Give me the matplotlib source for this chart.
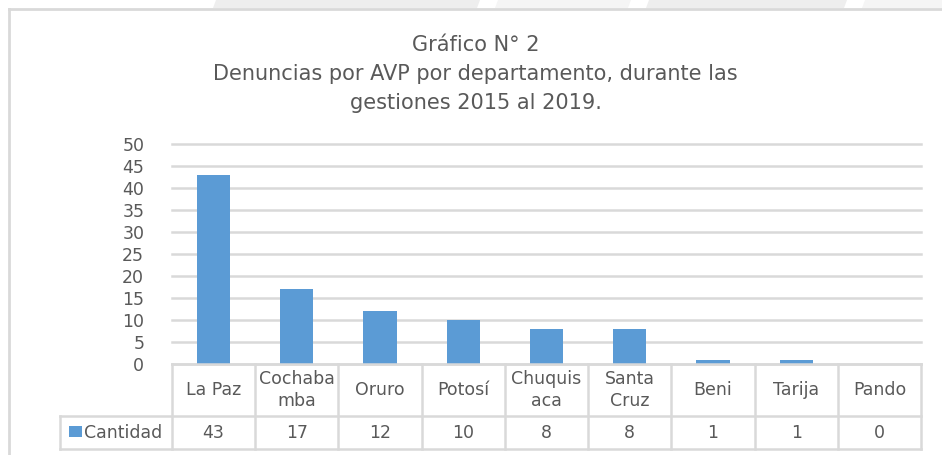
import matplotlib.pyplot as plt
from matplotlib.patches import Polygon, Rectangle

# data
departamentos = ["La Paz", "Cochaba\nmba", "Oruro", "Potosí", "Chuquis\naca",
                 "Santa\nCruz", "Beni", "Tarija", "Pando"]
cantidad = [43, 17, 12, 10, 8, 8, 1, 1, 0]
y_ticks = [0, 5, 10, 15, 20, 25, 30, 35, 40, 45, 50]

W, H = 942, 455
BLUE = "#5b9bd5"
GRID = "#d9d9d9"
TXT = "#595959"

plt.rcParams["font.family"] = ["DejaVu Sans"]

fig = plt.figure(figsize=(W / 100, H / 100), dpi=100)
fig.patch.set_facecolor("white")


def fx(px):
    return px / W


def fy(py):
    return 1 - py / H


# --- page background strip at the very top (slanted grey bands)
bands = [((213, 477), "#eeeeee"), ((495, 628), "#f5f5f5"),
         ((646, 844), "#eeeeee"), ((862, 960), "#f5f5f5")]
for (x0, x1), col in bands:
    fig.patches.append(Polygon([(fx(x0), fy(8)), (fx(x1), fy(8)),
                                (fx(x1 + 3), fy(0)), (fx(x0 + 3), fy(0))],
                               closed=True, facecolor=col, edgecolor="none",
                               transform=fig.transFigure, zorder=0))

# chart frame
fig.add_artist(plt.Line2D([fx(9), fx(9)], [fy(9), 0], color=GRID, lw=2,
                          transform=fig.transFigure))
fig.add_artist(plt.Line2D([fx(9), 1], [fy(9), fy(9)], color=GRID, lw=2,
                          transform=fig.transFigure))

# title
fig.text(0.505, fy(45), "Gráfico N° 2", ha="center", va="center",
         fontsize=15, color=TXT)
fig.text(0.505, fy(74), "Denuncias por AVP por departamento, durante las",
         ha="center", va="center", fontsize=15, color=TXT)
fig.text(0.505, fy(103), "gestiones 2015 al 2019.", ha="center", va="center",
         fontsize=15, color=TXT)

# plot area
left, right, top, bottom = 172, 921, 144, 364
ax = fig.add_axes([fx(left), fy(bottom), fx(right - left), (bottom - top) / H])
x = list(range(len(departamentos)))
ax.bar(x, cantidad, width=0.4, color=BLUE, zorder=3)
ax.set_xlim(-0.5, len(departamentos) - 0.5)
ax.set_ylim(0, 50)
ax.set_yticks(y_ticks)
ax.set_yticklabels([str(t) for t in y_ticks], fontsize=12.5, color=TXT)
ax.tick_params(axis="y", length=0, pad=20)
ax.set_xticks([])
ax.yaxis.grid(True, color=GRID, lw=1.8, zorder=0)
for gl in ax.get_ygridlines():
    gl.set_clip_on(False)
for s in ax.spines.values():
    s.set_visible(False)
ax.set_facecolor("none")

# --- data table below the plot
row1_h = (416 - bottom) / (bottom - top)
row2_h = (449 - bottom) / (bottom - top)
tr = ax.get_xaxis_transform()
n = len(departamentos)
leg_x = -0.5 - (left - 60) / ((right - left) / n)

ln = dict(color=GRID, lw=1.8, transform=tr, clip_on=False, zorder=4)
ax.plot([-0.5, n - 0.5], [0, 0], **ln)
ax.plot([leg_x, n - 0.5], [-row1_h, -row1_h], **ln)
ax.plot([leg_x, n - 0.5], [-row2_h, -row2_h], **ln)
for i in range(n + 1):
    ax.plot([i - 0.5, i - 0.5], [0, -row2_h], **ln)
ax.plot([leg_x, leg_x], [-row1_h, -row2_h], **ln)

for i, (dep, val) in enumerate(zip(departamentos, cantidad)):
    ax.text(i, -row1_h / 2, dep, transform=tr, ha="center", va="center",
            fontsize=12.5, color=TXT, linespacing=1.3)
    ax.text(i, -(row1_h + row2_h) / 2, str(val), transform=tr, ha="center",
            va="center", fontsize=12.5, color=TXT)

# legend key inside table
fig.patches.append(Rectangle((fx(69), fy(437)), fx(13), 11 / H,
                             facecolor=BLUE, edgecolor="none",
                             transform=fig.transFigure))
fig.text(fx(84), fy(433), "Cantidad", ha="left", va="center", fontsize=12.5,
         color=TXT)

fig.savefig("out.png", dpi=100)
